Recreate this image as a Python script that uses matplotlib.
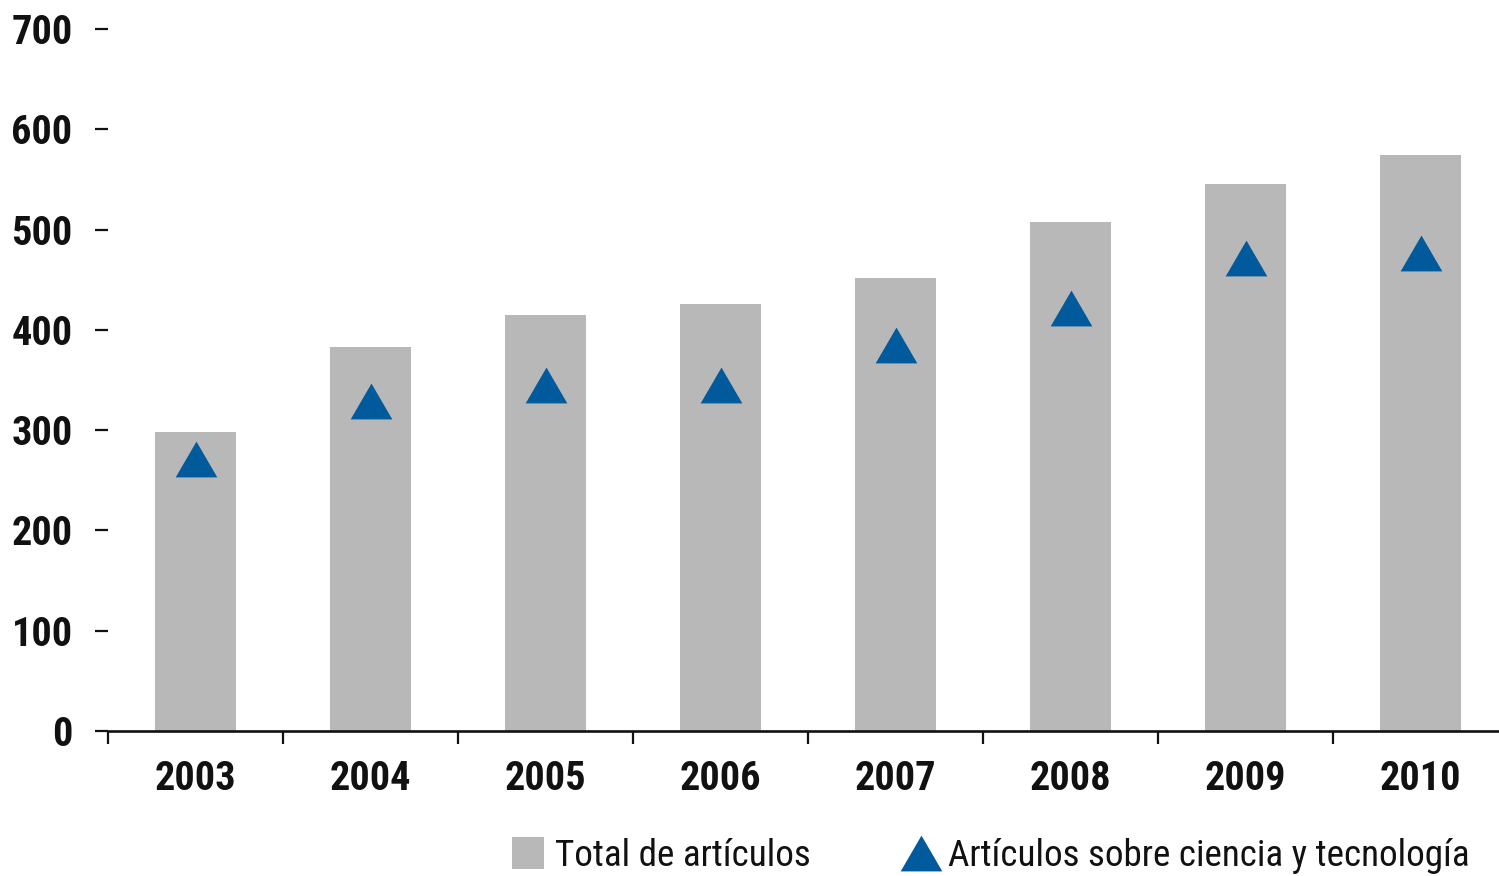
import matplotlib
matplotlib.use('Agg')
import matplotlib.pyplot as plt
from matplotlib.lines import Line2D

# ---- data ----
years = ['2003', '2004', '2005', '2006', '2007', '2008', '2009', '2010']
total_articulos = [298, 383, 415, 426, 452, 508, 545, 574]
articulos_cyt = [271, 329, 345, 345, 385, 422, 472, 477]
y_ticks = [0, 100, 200, 300, 400, 500, 600, 700]
legend_labels = ['Total de artículos', 'Artículos sobre ciencia y tecnología']

BAR_COLOR = '#b8b8b8'
TRI_COLOR = '#005a9c'
TEXT_COLOR = '#111111'

plt.rcParams['font.family'] = ['Roboto Condensed', 'PT Sans Narrow', 'Pragati Narrow',
                               'Asap Condensed', 'Liberation Sans']

W, H = 1499, 876
fig = plt.figure(figsize=(W / 100, H / 100), dpi=100)
x0, x1 = 108, 1508
y0, y1 = 731, 29
ax = fig.add_axes([x0 / W, (H - y0) / H, (x1 - x0) / W, (y0 - y1) / H])

xs = list(range(len(years)))
ax.bar(xs, total_articulos, width=0.46, color=BAR_COLOR, zorder=2)

tri = [(0, 0.43), (-0.5, -0.43), (0.5, -0.43)]
ax.plot(xs, articulos_cyt, linestyle='none', marker=tri, markersize=30,
        color=TRI_COLOR, markeredgewidth=0, zorder=3)

ax.set_xlim(-0.5, len(years) - 0.5)
ax.set_ylim(0, 700)

for s in ['top', 'right', 'left']:
    ax.spines[s].set_visible(False)
ax.spines['bottom'].set_linewidth(1.9)
ax.spines['bottom'].set_color(TEXT_COLOR)
ax.spines['bottom'].set_zorder(4)

# x: ticks at category boundaries, labels at centres
ax.set_xticks([i - 0.5 for i in xs])
ax.set_xticklabels([])
ax.set_xticks(xs, minor=True)
ax.set_xticklabels(years, minor=True)
ax.tick_params(axis='x', which='major', direction='out', length=9, width=1.6, color=TEXT_COLOR)
ax.tick_params(axis='x', which='minor', length=0, pad=21, labelsize=29, labelcolor=TEXT_COLOR)
for lab in ax.get_xticklabels(minor=True):
    lab.set_fontweight('bold')

ax.set_yticks(y_ticks)
ax.set_yticklabels([str(v) for v in y_ticks])
ax.tick_params(axis='y', direction='out', length=9.5, width=1.6, color=TEXT_COLOR,
               pad=16, labelsize=29, labelcolor=TEXT_COLOR)
for lab in ax.get_yticklabels():
    lab.set_fontweight('bold')

handles = [
    Line2D([], [], linestyle='none', marker='s', markersize=23, color=BAR_COLOR, markeredgewidth=0),
    Line2D([], [], linestyle='none', marker=tri, markersize=30, color=TRI_COLOR, markeredgewidth=0),
]
fig.legend(handles, legend_labels, loc='center', bbox_to_anchor=(988.5 / W, (H - 856) / H),
           ncol=2, frameon=False, fontsize=26.7, handlelength=1.12, handletextpad=0.18,
           columnspacing=2.4, borderpad=0, labelcolor=TEXT_COLOR)

fig.savefig('out.png', dpi=100)
